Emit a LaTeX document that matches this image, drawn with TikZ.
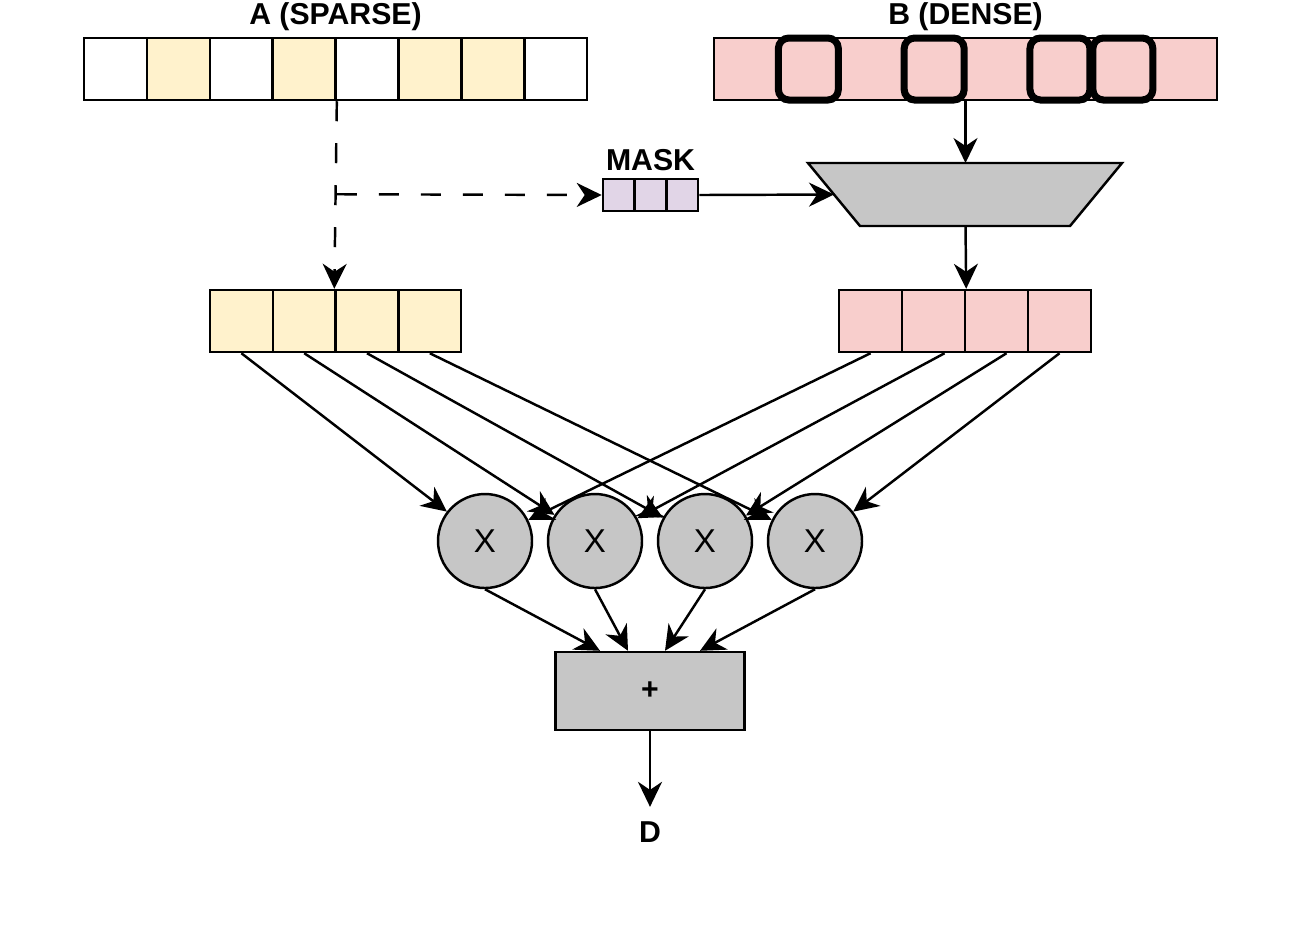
\documentclass[tikz,border=0pt]{standalone}
\usepackage{fontspec}
\setmainfont{Liberation Sans}
\usetikzlibrary{positioning}
\usetikzlibrary{arrows.meta}
\usetikzlibrary{calc}
\usepackage{xcolor}
\definecolor{sparsefill}{HTML}{FFF2CC}
\definecolor{densefill}{HTML}{F8CECC}
\definecolor{maskfill}{HTML}{E1D5E7}
\definecolor{unitfill}{HTML}{C6C6C6}

\begin{document}
\begin{tikzpicture}[
  every node/.style={inner sep=0pt},
  cell/.style={draw, line width=0.7pt, minimum width=0.629cm, minimum height=0.62cm},
  maskcell/.style={draw, line width=0.7pt, fill=maskfill, minimum width=0.317cm, minimum height=0.32cm},
  pick/.style={draw, line width=2pt, rounded corners=3pt, minimum width=0.6cm, minimum height=0.62cm},
  unit/.style={draw, line width=0.7pt, fill=unitfill},
  title/.style={font=\fontsize{8.6pt}{10pt}\selectfont\bfseries},
  link/.style={line width=0.7pt, -{Stealth[length=0.25cm, width=0.24cm, inset=0.08cm]}},
  dashlink/.style={link, dash pattern=on 0.2cm off 0.22cm}
]

\useasboundingbox (0,0) rectangle (13,-9.4);

% A (sparse) row
{
\node[cell] (a1) at (1.1545,-0.69) {};
\node[cell, fill=sparsefill] (a2) at (1.7835,-0.69) {};
\node[cell] (a3) at (2.4125,-0.69) {};
\node[cell, fill=sparsefill] (a4) at (3.0415,-0.69) {};
\node[cell] (a5) at (3.6705,-0.69) {};
\node[cell, fill=sparsefill] (a6) at (4.2995,-0.69) {};
\node[cell, fill=sparsefill] (a7) at (4.9285,-0.69) {};
\node[cell] (a8) at (5.5575,-0.69) {};

\node[title, anchor=base] (titlea) at (3.355,-0.24) {A (SPARSE)};
}

% B (dense) row
{
\node[cell, fill=densefill, minimum width=5.03cm] (rowb) at (9.655,-0.69) {};

\node[pick] (b2) at (8.0835,-0.69) {};
\node[pick] (b4) at (9.3415,-0.69) {};
\node[pick] (b6) at (10.5995,-0.69) {};
\node[pick] (b7) at (11.2285,-0.69) {};

\node[title, anchor=base] (titleb) at (9.655,-0.24) {B (DENSE)};
}

% mask and selector
{
\node[maskcell] (mask1) at (6.188,-1.95) {};
\node[maskcell] (mask2) at (6.505,-1.95) {};
\node[maskcell] (mask3) at (6.822,-1.95) {};
\node[title, above=0.06cm of mask2] (masklabel) {MASK};

\draw[unit] (8.08,-1.63) coordinate (seltl)--(11.22,-1.63) coordinate (seltr)
  --(10.70,-2.26) coordinate (selbr)--(8.60,-2.26) coordinate (selbl)--cycle;

\coordinate (seltop) at (9.655,-1.63);
\coordinate (selbot) at (9.655,-2.26);
\coordinate (selin) at ($(seltl)!0.5!(selbl)$);
}

% gathered operands
{
\node[cell, fill=sparsefill] (sa1) at (2.414,-3.21) {};
\node[cell, fill=sparsefill] (sa2) at (3.042,-3.21) {};
\node[cell, fill=sparsefill] (sa3) at (3.670,-3.21) {};
\node[cell, fill=sparsefill] (sa4) at (4.298,-3.21) {};

\node[cell, fill=densefill] (sb1) at (8.705,-3.21) {};
\node[cell, fill=densefill] (sb2) at (9.335,-3.21) {};
\node[cell, fill=densefill] (sb3) at (9.965,-3.21) {};
\node[cell, fill=densefill] (sb4) at (10.595,-3.21) {};
}

% multipliers, adder, output
{
\node[unit, circle, minimum size=0.94cm, font=\fontsize{9.4pt}{10pt}\selectfont] (mul1) at (4.85,-5.41) {X};
\node[unit, circle, minimum size=0.94cm, font=\fontsize{9.4pt}{10pt}\selectfont] (mul2) at (5.95,-5.41) {X};
\node[unit, circle, minimum size=0.94cm, font=\fontsize{9.4pt}{10pt}\selectfont] (mul3) at (7.05,-5.41) {X};
\node[unit, circle, minimum size=0.94cm, font=\fontsize{9.4pt}{10pt}\selectfont] (mul4) at (8.15,-5.41) {X};

\node[unit, minimum width=1.89cm, minimum height=0.78cm, font=\fontsize{8.6pt}{10pt}\selectfont\bfseries] (adder) at (6.5,-6.91) {+};

\node[title, inner sep=4pt] (dout) at (6.5,-8.32) {D};
}

\coordinate (split) at ($(a4.south east)+(0,-0.93)$);

\draw[dashlink] (a4.south east)--(sa3.north west);
\draw[dashlink] (split)--(mask1.west);

\draw[link] (rowb.south)--(seltop);
\draw[link] (mask3.east)--(selin);
\draw[link] (selbot)--(sb2.north east);

\draw[link] (sa1.south)--(mul1);
\draw[link] (sa2.south)--(mul2);
\draw[link] (sa3.south)--(mul3);
\draw[link] (sa4.south)--(mul4);

\draw[link] (sb1.south)--(mul1);
\draw[link] ($(sb2.south)+(0.11,0)$)--(mul2);
\draw[link] ($(sb3.south)+(0.1,0)$)--(mul3);
\draw[link] (sb4.south)--(mul4);

\draw[link] (mul1.south)--($(adder.north)+(-0.5,0)$);
\draw[link] (mul2.south)--($(adder.north)+(-0.22,0)$);
\draw[link] (mul3.south)--($(adder.north)+(0.15,0)$);
\draw[link] (mul4.south)--($(adder.north)+(0.5,0)$);

\draw[link] (adder.south)--(dout.north);

\end{tikzpicture}
\end{document}
